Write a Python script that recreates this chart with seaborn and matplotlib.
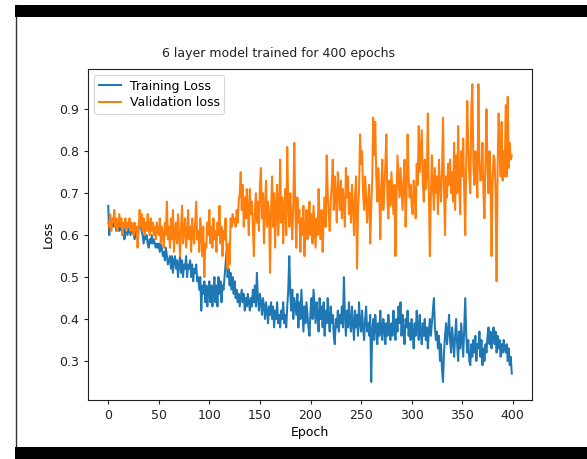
import numpy as np
import pandas as pd
import matplotlib
matplotlib.use("Agg")
import matplotlib.pyplot as plt
import seaborn as sns
from matplotlib.patches import Rectangle
from matplotlib.lines import Line2D

title = "6 layer model trained for 400 epochs"
x_label = "Epoch"
y_label = "Loss"
series_names = ["Training Loss", "Validation loss"]

training_loss = [
    0.67, 0.60, 0.64, 0.63, 0.62, 0.64, 0.62, 0.63, 0.61, 0.62, 0.63, 0.61, 0.62, 0.62, 0.60, 0.62, 0.59, 0.61, 0.62, 0.60,
    0.61, 0.62, 0.60, 0.61, 0.62, 0.61, 0.59, 0.60, 0.61, 0.60, 0.62, 0.63, 0.62, 0.61, 0.60, 0.58, 0.60, 0.59, 0.60, 0.58,
    0.57, 0.59, 0.58, 0.60, 0.58, 0.59, 0.58, 0.57, 0.58, 0.57, 0.58, 0.56, 0.58, 0.57, 0.55, 0.56, 0.54, 0.57, 0.55, 0.53,
    0.54, 0.55, 0.52, 0.55, 0.51, 0.54, 0.55, 0.52, 0.54, 0.50, 0.53, 0.55, 0.51, 0.54, 0.50, 0.53, 0.52, 0.55, 0.50, 0.53,
    0.52, 0.54, 0.50, 0.53, 0.49, 0.52, 0.51, 0.53, 0.49, 0.50, 0.47, 0.50, 0.42, 0.48, 0.46, 0.49, 0.44, 0.48, 0.43, 0.47,
    0.49, 0.44, 0.48, 0.43, 0.47, 0.50, 0.44, 0.48, 0.43, 0.50, 0.46, 0.49, 0.44, 0.48, 0.47, 0.50, 0.53, 0.56, 0.50, 0.52,
    0.48, 0.51, 0.47, 0.50, 0.46, 0.49, 0.45, 0.47, 0.44, 0.46, 0.43, 0.45, 0.47, 0.44, 0.46, 0.42, 0.45, 0.43, 0.46, 0.44,
    0.42, 0.45, 0.43, 0.47, 0.44, 0.48, 0.43, 0.51, 0.45, 0.42, 0.46, 0.44, 0.41, 0.45, 0.43, 0.40, 0.44, 0.42, 0.39, 0.43,
    0.41, 0.44, 0.40, 0.43, 0.38, 0.42, 0.40, 0.44, 0.39, 0.41, 0.38, 0.42, 0.40, 0.44, 0.39, 0.41, 0.38, 0.43, 0.47, 0.55,
    0.46, 0.42, 0.47, 0.40, 0.45, 0.43, 0.41, 0.46, 0.38, 0.44, 0.40, 0.47, 0.42, 0.37, 0.43, 0.39, 0.44, 0.41, 0.38, 0.36,
    0.42, 0.45, 0.40, 0.47, 0.43, 0.39, 0.44, 0.41, 0.37, 0.45, 0.40, 0.43, 0.38, 0.44, 0.36, 0.42, 0.39, 0.45, 0.40, 0.37,
    0.43, 0.39, 0.41, 0.36, 0.34, 0.40, 0.38, 0.42, 0.37, 0.41, 0.39, 0.43, 0.38, 0.50, 0.41, 0.36, 0.42, 0.38, 0.44, 0.39,
    0.37, 0.43, 0.39, 0.35, 0.42, 0.38, 0.41, 0.36, 0.44, 0.39, 0.37, 0.42, 0.38, 0.35, 0.40, 0.43, 0.37, 0.39, 0.36, 0.41,
    0.25, 0.37, 0.40, 0.35, 0.41, 0.38, 0.34, 0.39, 0.36, 0.42, 0.37, 0.35, 0.40, 0.38, 0.34, 0.39, 0.36, 0.41, 0.37, 0.35,
    0.39, 0.36, 0.42, 0.38, 0.35, 0.40, 0.37, 0.43, 0.39, 0.44, 0.36, 0.41, 0.37, 0.34, 0.40, 0.38, 0.42, 0.36, 0.39, 0.35,
    0.40, 0.37, 0.33, 0.39, 0.36, 0.42, 0.38, 0.35, 0.41, 0.37, 0.34, 0.39, 0.36, 0.40, 0.35, 0.38, 0.33, 0.37, 0.40, 0.36,
    0.39, 0.42, 0.45, 0.38, 0.35, 0.37, 0.33, 0.36, 0.30, 0.34, 0.28, 0.25, 0.32, 0.36, 0.39, 0.34, 0.37, 0.41, 0.35, 0.32,
    0.38, 0.35, 0.31, 0.36, 0.40, 0.34, 0.30, 0.37, 0.33, 0.39, 0.35, 0.31, 0.38, 0.45, 0.36, 0.32, 0.35, 0.30, 0.29, 0.34,
    0.31, 0.35, 0.32, 0.36, 0.30, 0.34, 0.33, 0.37, 0.31, 0.35, 0.29, 0.33, 0.30, 0.34, 0.32, 0.36, 0.38, 0.34, 0.37, 0.33,
    0.36, 0.38, 0.34, 0.37, 0.32, 0.36, 0.33, 0.35, 0.31, 0.34, 0.32, 0.35, 0.33, 0.32, 0.34, 0.30, 0.33, 0.29, 0.31, 0.27,
]

validation_loss = [
    0.63, 0.62, 0.65, 0.61, 0.64, 0.63, 0.66, 0.62, 0.64, 0.61, 0.63, 0.65, 0.62, 0.64, 0.60, 0.63, 0.62, 0.64, 0.61, 0.63,
    0.62, 0.64, 0.61, 0.63, 0.62, 0.60, 0.63, 0.61, 0.62, 0.57, 0.61, 0.66, 0.62, 0.65, 0.61, 0.64, 0.60, 0.63, 0.61, 0.65,
    0.62, 0.60, 0.64, 0.61, 0.63, 0.60, 0.62, 0.59, 0.63, 0.61, 0.60, 0.64, 0.58, 0.62, 0.60, 0.57, 0.63, 0.60, 0.68, 0.59,
    0.62, 0.57, 0.64, 0.59, 0.66, 0.56, 0.61, 0.63, 0.58, 0.65, 0.60, 0.55, 0.62, 0.67, 0.58, 0.61, 0.64, 0.57, 0.60, 0.66,
    0.59, 0.62, 0.56, 0.64, 0.60, 0.58, 0.63, 0.68, 0.59, 0.61, 0.56, 0.64, 0.60, 0.55, 0.62, 0.50, 0.58, 0.57, 0.63, 0.60,
    0.66, 0.58, 0.62, 0.57, 0.64, 0.59, 0.61, 0.56, 0.63, 0.60, 0.67, 0.58, 0.62, 0.55, 0.61, 0.59, 0.64, 0.56, 0.52, 0.58,
    0.53, 0.64, 0.62, 0.65, 0.63, 0.64, 0.62, 0.66, 0.63, 0.68, 0.70, 0.75, 0.66, 0.72, 0.62, 0.69, 0.64, 0.71, 0.66, 0.60,
    0.71, 0.65, 0.68, 0.62, 0.55, 0.66, 0.70, 0.63, 0.68, 0.61, 0.72, 0.76, 0.64, 0.70, 0.58, 0.67, 0.73, 0.62, 0.68, 0.65,
    0.51, 0.66, 0.74, 0.62, 0.70, 0.57, 0.67, 0.72, 0.60, 0.65, 0.78, 0.63, 0.69, 0.58, 0.66, 0.71, 0.60, 0.81, 0.67, 0.62,
    0.70, 0.64, 0.59, 0.68, 0.82, 0.66, 0.57, 0.69, 0.63, 0.66, 0.56, 0.64, 0.60, 0.67, 0.55, 0.62, 0.66, 0.59, 0.64, 0.68,
    0.60, 0.65, 0.58, 0.67, 0.62, 0.57, 0.64, 0.60, 0.71, 0.63, 0.59, 0.66, 0.56, 0.64, 0.69, 0.62, 0.79, 0.70, 0.65, 0.61,
    0.68, 0.72, 0.78, 0.66, 0.74, 0.69, 0.63, 0.75, 0.70, 0.66, 0.73, 0.64, 0.71, 0.67, 0.62, 0.76, 0.69, 0.74, 0.65, 0.70,
    0.63, 0.72, 0.67, 0.60, 0.69, 0.74, 0.52, 0.66, 0.71, 0.84, 0.77, 0.80, 0.70, 0.66, 0.74, 0.69, 0.63, 0.68, 0.72, 0.58,
    0.66, 0.73, 0.88, 0.79, 0.87, 0.74, 0.68, 0.76, 0.70, 0.59, 0.72, 0.78, 0.66, 0.71, 0.77, 0.84, 0.69, 0.64, 0.73, 0.67,
    0.75, 0.70, 0.65, 0.72, 0.55, 0.68, 0.79, 0.74, 0.69, 0.76, 0.71, 0.66, 0.73, 0.78, 0.62, 0.70, 0.84, 0.74, 0.69, 0.72,
    0.67, 0.65, 0.73, 0.70, 0.64, 0.77, 0.72, 0.86, 0.75, 0.80, 0.85, 0.73, 0.68, 0.78, 0.71, 0.74, 0.89, 0.70, 0.55, 0.69,
    0.79, 0.72, 0.66, 0.76, 0.70, 0.74, 0.65, 0.78, 0.72, 0.68, 0.75, 0.88, 0.71, 0.60, 0.74, 0.69, 0.77, 0.72, 0.78, 0.70,
    0.75, 0.68, 0.82, 0.66, 0.79, 0.70, 0.86, 0.72, 0.65, 0.80, 0.74, 0.83, 0.70, 0.60, 0.78, 0.92, 0.81, 0.74, 0.70, 0.90,
    0.96, 0.77, 0.72, 0.80, 0.75, 0.69, 0.96, 0.78, 0.73, 0.74, 0.82, 0.70, 0.64, 0.78, 0.90, 0.76, 0.70, 0.80, 0.74, 0.55,
    0.72, 0.79, 0.78, 0.70, 0.49, 0.76, 0.89, 0.80, 0.74, 0.87, 0.73, 0.80, 0.74, 0.91, 0.74, 0.93, 0.76, 0.82, 0.78, 0.79,
]

x_ticks = [0, 50, 100, 150, 200, 250, 300, 350, 400]
y_ticks = [0.3, 0.4, 0.5, 0.6, 0.7, 0.8, 0.9]
colors = ["#1f77b4", "#ff7f0e"]

epochs = np.arange(len(training_loss))
df = pd.DataFrame({
    "Epoch": np.concatenate([epochs, epochs]),
    "Loss": training_loss + validation_loss,
    "Series": [series_names[0]] * len(training_loss) + [series_names[1]] * len(validation_loss),
})

W, H = 587, 459
fig = plt.figure(figsize=(W / 100, H / 100), dpi=100)
fig.patch.set_facecolor("white")

# screenshot frame
fig.patches.append(Rectangle((15 / W, 0), 1 - 15 / W, 12 / H, transform=fig.transFigure,
                             facecolor="black", edgecolor="none", zorder=10))
fig.patches.append(Rectangle((15 / W, 1 - 16.5 / H), 1 - 15 / W, 11.5 / H, transform=fig.transFigure,
                             facecolor="black", edgecolor="none", zorder=10))
fig.lines.append(Line2D([15.5 / W, 15.5 / W], [0, 1 - 5 / H], transform=fig.transFigure,
                        color="#333333", linewidth=1.0, zorder=10))

ax = fig.add_axes([88 / W, (H - 400) / H, 444 / W, 331 / H])
sns.lineplot(data=df, x="Epoch", y="Loss", hue="Series", palette=colors,
             linewidth=1.45, ax=ax, legend=True)

ax.set_xlim(-20, 419)
ax.set_ylim(0.207, 0.996)
ax.set_xticks(x_ticks)
ax.set_yticks(y_ticks)
ax.tick_params(labelsize=9, length=3.2, width=0.8, colors="#222222")
for s in ax.spines.values():
    s.set_linewidth(0.8)
    s.set_color("#222222")
ax.set_xlabel(x_label, fontsize=9, labelpad=3)
ax.set_ylabel(y_label, fontsize=9, labelpad=3)

leg = ax.legend(loc="upper left", fontsize=9, frameon=True, handlelength=1.8,
                borderpad=0.35, labelspacing=0.3, handletextpad=0.7)
leg.get_frame().set_linewidth(0.8)
leg.get_frame().set_edgecolor("#cccccc")

fig.text(278 / W, 1 - 54 / H, title, ha="center", va="center", fontsize=9, color="#222222")

fig.savefig("out.png", dpi=100)
